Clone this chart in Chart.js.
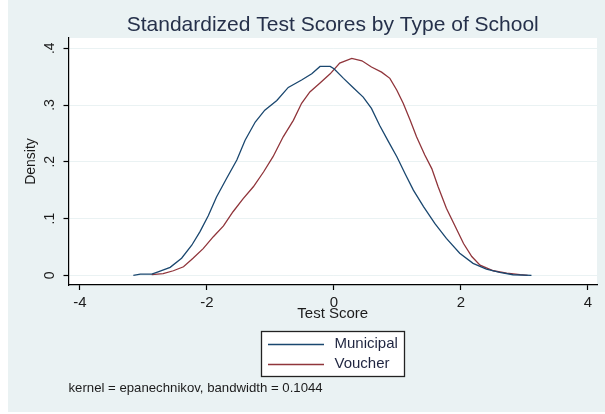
<!DOCTYPE html>
<html><head><meta charset="utf-8">
<script src="https://cdn.jsdelivr.net/npm/chart.js@4"></script>
<style>html,body{margin:0;padding:0;background:#fff;}canvas{display:block;}</style>
</head><body>
<canvas id="c" width="605" height="414"></canvas>
<script>
const titleText = 'Standardized Test Scores by Type of School';
const noteText = 'kernel = epanechnikov, bandwidth = 0.1044';
const xAxisTitle = 'Test Score';
const yAxisTitle = 'Density';
const seriesNames = ['Municipal', 'Voucher'];
const xTickValues = [-4, -2, 0, 2, 4];
const xTickLabels = ['-4', '-2', '0', '2', '4'];
const yTickValues = [0, 0.1, 0.2, 0.3, 0.4];
const yTickLabels = ['0', '.1', '.2', '.3', '.4'];

const municipalX = [-3.16, -3.05, -2.87, -2.77, -2.58, -2.40, -2.24, -2.11, -1.98, -1.85, -1.69, -1.53, -1.40, -1.24, -1.09, -0.90, -0.72, -0.51, -0.35, -0.22, -0.06, 0.00, 0.15, 0.30, 0.46, 0.59, 0.72, 0.86, 0.99, 1.12, 1.25, 1.41, 1.59, 1.77, 1.98, 2.19, 2.40, 2.61, 2.82, 3.11];
const municipalY = [0.000, 0.002, 0.002, 0.006, 0.014, 0.030, 0.053, 0.077, 0.105, 0.138, 0.171, 0.203, 0.238, 0.270, 0.291, 0.308, 0.331, 0.344, 0.355, 0.368, 0.368, 0.364, 0.347, 0.331, 0.314, 0.294, 0.264, 0.235, 0.209, 0.179, 0.150, 0.121, 0.091, 0.065, 0.039, 0.021, 0.011, 0.005, 0.001, 0.000];
const voucherX = [-2.87, -2.69, -2.53, -2.37, -2.22, -2.06, -1.90, -1.74, -1.59, -1.43, -1.27, -1.11, -0.96, -0.80, -0.64, -0.51, -0.38, -0.22, -0.06, 0.09, 0.28, 0.44, 0.59, 0.75, 0.88, 0.99, 1.09, 1.20, 1.30, 1.43, 1.54, 1.64, 1.77, 1.91, 2.04, 2.17, 2.30, 2.51, 2.72, 2.93, 3.05];
const voucherY = [0.001, 0.003, 0.008, 0.015, 0.030, 0.047, 0.068, 0.087, 0.112, 0.135, 0.156, 0.182, 0.209, 0.244, 0.273, 0.303, 0.323, 0.339, 0.355, 0.374, 0.382, 0.378, 0.367, 0.358, 0.347, 0.326, 0.303, 0.273, 0.244, 0.212, 0.188, 0.156, 0.118, 0.086, 0.056, 0.033, 0.018, 0.008, 0.004, 0.001, 0.000];

const FONT = '"Liberation Sans", Arial, Helvetica, sans-serif';
const BG = '#EAF2F3';
const TEXT = '#1c1c1c';
const COLORS = ['#1a476f', '#90353b'];
Chart.defaults.font.family = FONT;
Chart.defaults.color = TEXT;

const zip = (xs, ys) => xs.map((x, i) => ({x: x, y: ys[i]}));

const framePlugin = {
  id: 'frame',
  beforeDraw(chart) {
    const {ctx, chartArea: a, width, height} = chart;
    ctx.save();
    ctx.fillStyle = '#ffffff';
    ctx.fillRect(0, 0, width, height);
    ctx.fillStyle = BG;
    ctx.fillRect(8, 0, width - 8, 412);
    ctx.fillStyle = '#ffffff';
    ctx.fillRect(a.left, a.top, a.right - a.left, a.bottom - a.top);
    ctx.restore();
  },
  afterDraw(chart) {
    const {ctx, chartArea: a} = chart;
    const xs = chart.scales.x;
    const fontSize = 15;
    ctx.save();
    ctx.font = fontSize + 'px ' + FONT;
    const items = chart.data.datasets.map(d => ({text: d.label, color: d.borderColor, w: ctx.measureText(d.label).width}));
    const lineLen = 56, gap = 10.5, padX = 7, rowH = 20, padTop = 13;
    const maxW = Math.max(...items.map(i => i.w));
    const boxW = Math.round(padX * 2 + lineLen + gap + maxW);
    const boxH = 46;
    const cx = (a.left + a.right) / 2;
    const left = Math.round(cx - boxW / 2);
    const top = Math.round(xs.bottom);
    ctx.fillStyle = '#ffffff';
    ctx.fillRect(left, top, boxW, boxH);
    ctx.strokeStyle = '#222222';
    ctx.lineWidth = 1.3;
    ctx.strokeRect(left + 0.5, top + 0.5, boxW - 1, boxH - 1);
    items.forEach((it, i) => {
      const y = top + padTop + i * rowH;
      ctx.strokeStyle = it.color;
      ctx.lineWidth = 1.3;
      ctx.beginPath();
      ctx.moveTo(left + padX, y + 0.5);
      ctx.lineTo(left + padX + lineLen, y + 0.5);
      ctx.stroke();
      ctx.fillStyle = '#1f2540';
      ctx.textBaseline = 'middle';
      ctx.textAlign = 'left';
      ctx.fillText(it.text, left + padX + lineLen + gap, y);
    });
    ctx.restore();
  }
};

new Chart(document.getElementById('c'), {
  type: 'line',
  data: {
    datasets: [
      {label: seriesNames[0], data: zip(municipalX, municipalY), borderColor: COLORS[0], backgroundColor: COLORS[0], borderWidth: 1.3, pointRadius: 0, tension: 0, fill: false},
      {label: seriesNames[1], data: zip(voucherX, voucherY), borderColor: COLORS[1], backgroundColor: COLORS[1], borderWidth: 1.3, pointRadius: 0, tension: 0, fill: false}
    ]
  },
  options: {
    responsive: false,
    animation: false,
    devicePixelRatio: 1,
    layout: {padding: {left: 0, right: 8, top: 0, bottom: 0}},
    plugins: {
      legend: {display: false},
      tooltip: {enabled: false},
      title: {
        display: true, text: titleText, fullSize: false,
        font: {size: 21, weight: 'normal', lineHeight: 1.15}, color: '#25304a',
        padding: {top: 13, bottom: 0.85}
      },
      subtitle: {
        display: true, text: noteText, position: 'bottom', align: 'start', fullSize: false,
        font: {size: 13.2, weight: 'normal', lineHeight: 1.2}, color: TEXT,
        padding: {top: 49, bottom: 18.16}
      }
    },
    scales: {
      x: {
        type: 'linear', position: 'bottom',
        min: -4.181, max: 4.142,
        afterBuildTicks(s) { s.ticks = xTickValues.map(v => ({value: v})); },
        afterFit(s) { s.height = 46; s.paddingLeft = 0; s.paddingRight = 0; },
        ticks: {
          autoSkip: false, maxRotation: 0, padding: 4,
          font: {size: 15}, color: TEXT,
          callback(v) { const i = xTickValues.indexOf(v); return i >= 0 ? xTickLabels[i] : ''; }
        },
        grid: {display: true, drawOnChartArea: false, drawTicks: true, tickLength: 5, tickColor: '#000', tickWidth: 1.2},
        border: {display: true, color: '#000', width: 1.2},
        title: {display: true, text: xAxisTitle, font: {size: 15}, color: TEXT, padding: {top: 0, bottom: 8}}
      },
      y: {
        type: 'linear', position: 'left',
        min: -0.0171, max: 0.4181,
        afterBuildTicks(s) { s.ticks = yTickValues.map(v => ({value: v})); },
        afterFit(s) { s.width = 68.5; s.paddingTop = 0; s.paddingBottom = 0; },
        ticks: {
          autoSkip: false, minRotation: 90, maxRotation: 90, crossAlign: 'center', padding: 8,
          font: {size: 14}, color: TEXT,
          callback(v) { const i = yTickValues.findIndex(t => Math.abs(t - v) < 1e-9); return i >= 0 ? yTickLabels[i] : ''; }
        },
        grid: {display: true, drawOnChartArea: true, drawTicks: true, tickLength: 5, color: BG, lineWidth: 1, tickColor: '#000', tickWidth: 1.2},
        border: {display: true, color: '#000', width: 1.2},
        title: {display: true, text: yAxisTitle, font: {size: 14}, color: TEXT, padding: {top: 23, bottom: 0}}
      }
    }
  },
  plugins: [framePlugin]
});
</script>
</body></html>
